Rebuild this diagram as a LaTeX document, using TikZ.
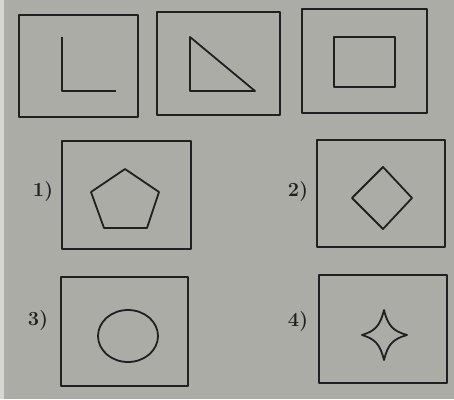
\documentclass[tikz,border=0pt]{standalone}
\usepackage{fontspec}
\definecolor{paper}{RGB}{172,172,167}
\definecolor{edge}{RGB}{214,214,210}
\definecolor{ink}{RGB}{32,32,32}
\begin{document}
\begin{tikzpicture}[x=1pt,y=-1pt,line join=round,
  frame/.style={draw=ink,line width=2.2pt},
  fig/.style={draw=ink,line width=1.8pt},
  lab/.style={font=\fontsize{20}{22}\selectfont\bfseries,text=ink,inner sep=0pt}]
\fill[paper] (0,0) rectangle (454,399);
\fill[edge] (0,0) rectangle (4,399);
\useasboundingbox (0,0) rectangle (454,399);
% top row
\draw[frame] (19,15) rectangle (138,117);
\draw[frame] (157,12) rectangle (280,115);
\draw[frame] (302,9) rectangle (427,113);
\draw[fig] (62,37) -- (62,91) -- (116,91);
\draw[fig] (190,37) -- (190,91) -- (255,91) -- cycle;
\draw[fig] (334,37) rectangle (395,87);
% options
\draw[frame] (62,141) rectangle (191,249);
\draw[frame] (317,140) rectangle (445,247);
\draw[frame] (61,277) rectangle (188,386);
\draw[frame] (319,275) rectangle (447,383);
\draw[fig] (125,169) -- (159,192) -- (147,228) -- (104,228) -- (91,192) -- cycle;
\draw[fig] (383,167) -- (412,198) -- (383,229) -- (352,198) -- cycle;
\draw[fig] (128,336) ellipse [x radius=30, y radius=26];
\draw[fig,shift={(384,335)}] (0,-25) .. controls (4,-9) and (9,-4) .. (23,0)
  .. controls (9,4) and (4,9) .. (0,25)
  .. controls (-4,9) and (-9,4) .. (-22,0)
  .. controls (-9,-4) and (-4,-9) .. cycle;
\node[lab] (l1) at (43,192) {1)};
\node[lab] (l2) at (298,192) {2)};
\node[lab] (l3) at (38,321) {3)};
\node[lab] (l4) at (298,322) {4)};
\end{tikzpicture}
\end{document}
